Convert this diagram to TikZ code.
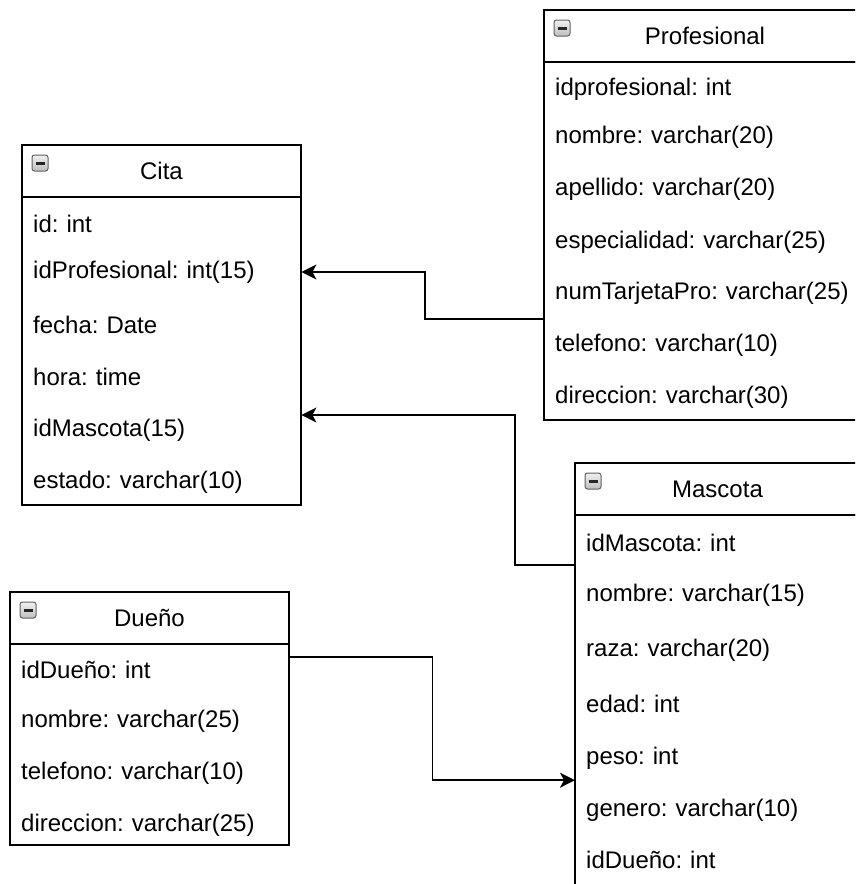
\documentclass[tikz,border=0pt]{standalone}
\usepackage{fontspec}
\setmainfont{Liberation Sans}
\usetikzlibrary{arrows.meta}

\begin{document}
\begin{tikzpicture}[
    x=1pt, y=-1pt,
    every node/.style={font=\fontsize{24}{28}\selectfont\frenchspacing},
    tabhead/.style={draw, line width=1.6pt, anchor=north west, minimum height=52pt, inner sep=0pt, outer sep=0pt},
    tabbody/.style={draw, line width=1.6pt, anchor=north west, inner sep=0pt, outer sep=0pt},
    field/.style={anchor=west, inner xsep=11pt, inner ysep=0pt, minimum height=52pt,
      text height=17pt, text depth=5pt, text width=#1, align=left},
    collapsebox/.style={draw=gray!75!black, line width=1pt, top color=gray!12, bottom color=gray!50,
      rounded corners=2.5pt, minimum width=16pt, minimum height=16pt, inner sep=0pt, font=\tiny,
      path picture={\draw[line width=3pt, black!85]
        ([xshift=3.5pt]path picture bounding box.west) -- ([xshift=-3.5pt]path picture bounding box.east);}},
    link/.style={draw, line width=1.6pt},
    >={Stealth[length=15pt, width=15pt, inset=4pt]}
  ]
    \useasboundingbox (0,0) rectangle (855,884);
    \clip (0,0) rectangle (855,884);

    % Cita
    \node[tabhead, minimum width=279pt] (citaHead) at (22,145) {Cita};
    \node[tabbody, minimum width=279pt, minimum height=308pt] (citaBody) at (citaHead.south west) {};
    \node[collapsebox] (citaIcon) at (40,163) {};
    \node[field=257pt] (c1) at (22,226) {id: int};
    \node[field=257pt] (c2) at (22,272) {idProfesional: int(15)};
    \node[field=257pt] (c3) at (22,327) {fecha: Date};
    \node[field=257pt] (c4) at (22,379) {hora: time};
    \node[field=257pt] (c5) at (22,430) {idMascota(15)};
    \node[field=257pt] (c6) at (22,482) {estado: varchar(10)};

    % Profesional
    \node[tabhead, minimum width=322pt] (profHead) at (544,10) {Profesional};
    \node[tabbody, minimum width=322pt, minimum height=358pt] (profBody) at (profHead.south west) {};
    \node[collapsebox] (profIcon) at (562,28) {};
    \node[field=300pt] (p1) at (544,89) {idprofesional: int};
    \node[field=300pt] (p2) at (544,137) {nombre: varchar(20)};
    \node[field=300pt] (p3) at (544,189) {apellido: varchar(20)};
    \node[field=300pt] (p4) at (544,242) {especialidad: varchar(25)};
    \node[field=300pt] (p5) at (544,293) {numTarjetaPro: varchar(25)};
    \node[field=300pt] (p6) at (544,345) {telefono: varchar(10)};
    \node[field=300pt] (p7) at (544,397) {direccion: varchar(30)};

    % Mascota
    \node[tabhead, minimum width=285pt] (mascHead) at (575,463) {Mascota};
    \node[tabbody, minimum width=285pt, minimum height=420pt] (mascBody) at (mascHead.south west) {};
    \node[collapsebox] (mascIcon) at (593,481) {};
    \node[field=263pt] (m1) at (575,545) {idMascota: int};
    \node[field=263pt] (m2) at (575,595) {nombre: varchar(15)};
    \node[field=263pt] (m3) at (575,650) {raza: varchar(20)};
    \node[field=263pt] (m4) at (575,706) {edad: int};
    \node[field=263pt] (m5) at (575,758) {peso: int};
    \node[field=263pt] (m6) at (575,810) {genero: varchar(10)};
    \node[field=263pt] (m7) at (575,862) {idDueño: int};

    % Dueño
    \node[tabhead, minimum width=279pt] (duenoHead) at (10,592) {Dueño};
    \node[tabbody, minimum width=279pt, minimum height=201pt] (duenoBody) at (duenoHead.south west) {};
    \node[collapsebox] (duenoIcon) at (28,610) {};
    \node[field=257pt] (d1) at (10,672) {idDueño: int};
    \node[field=257pt] (d2) at (10,721) {nombre: varchar(25)};
    \node[field=257pt] (d3) at (10,773) {telefono: varchar(10)};
    \node[field=257pt] (d4) at (10,825) {direccion: varchar(25)};

    \draw[link, ->] (p5.south west) -- ++(-119,0) |- (c2.east);
    \draw[link, ->] ([yshift=-20pt]m1.west) -- ++(-60,0) |- ([yshift=15pt]c5.east);
    \draw[link, ->] ([yshift=15pt]d1.east) -- ++(143,0) |- ([yshift=4pt]m5.south west);
  \end{tikzpicture}
\end{document}
